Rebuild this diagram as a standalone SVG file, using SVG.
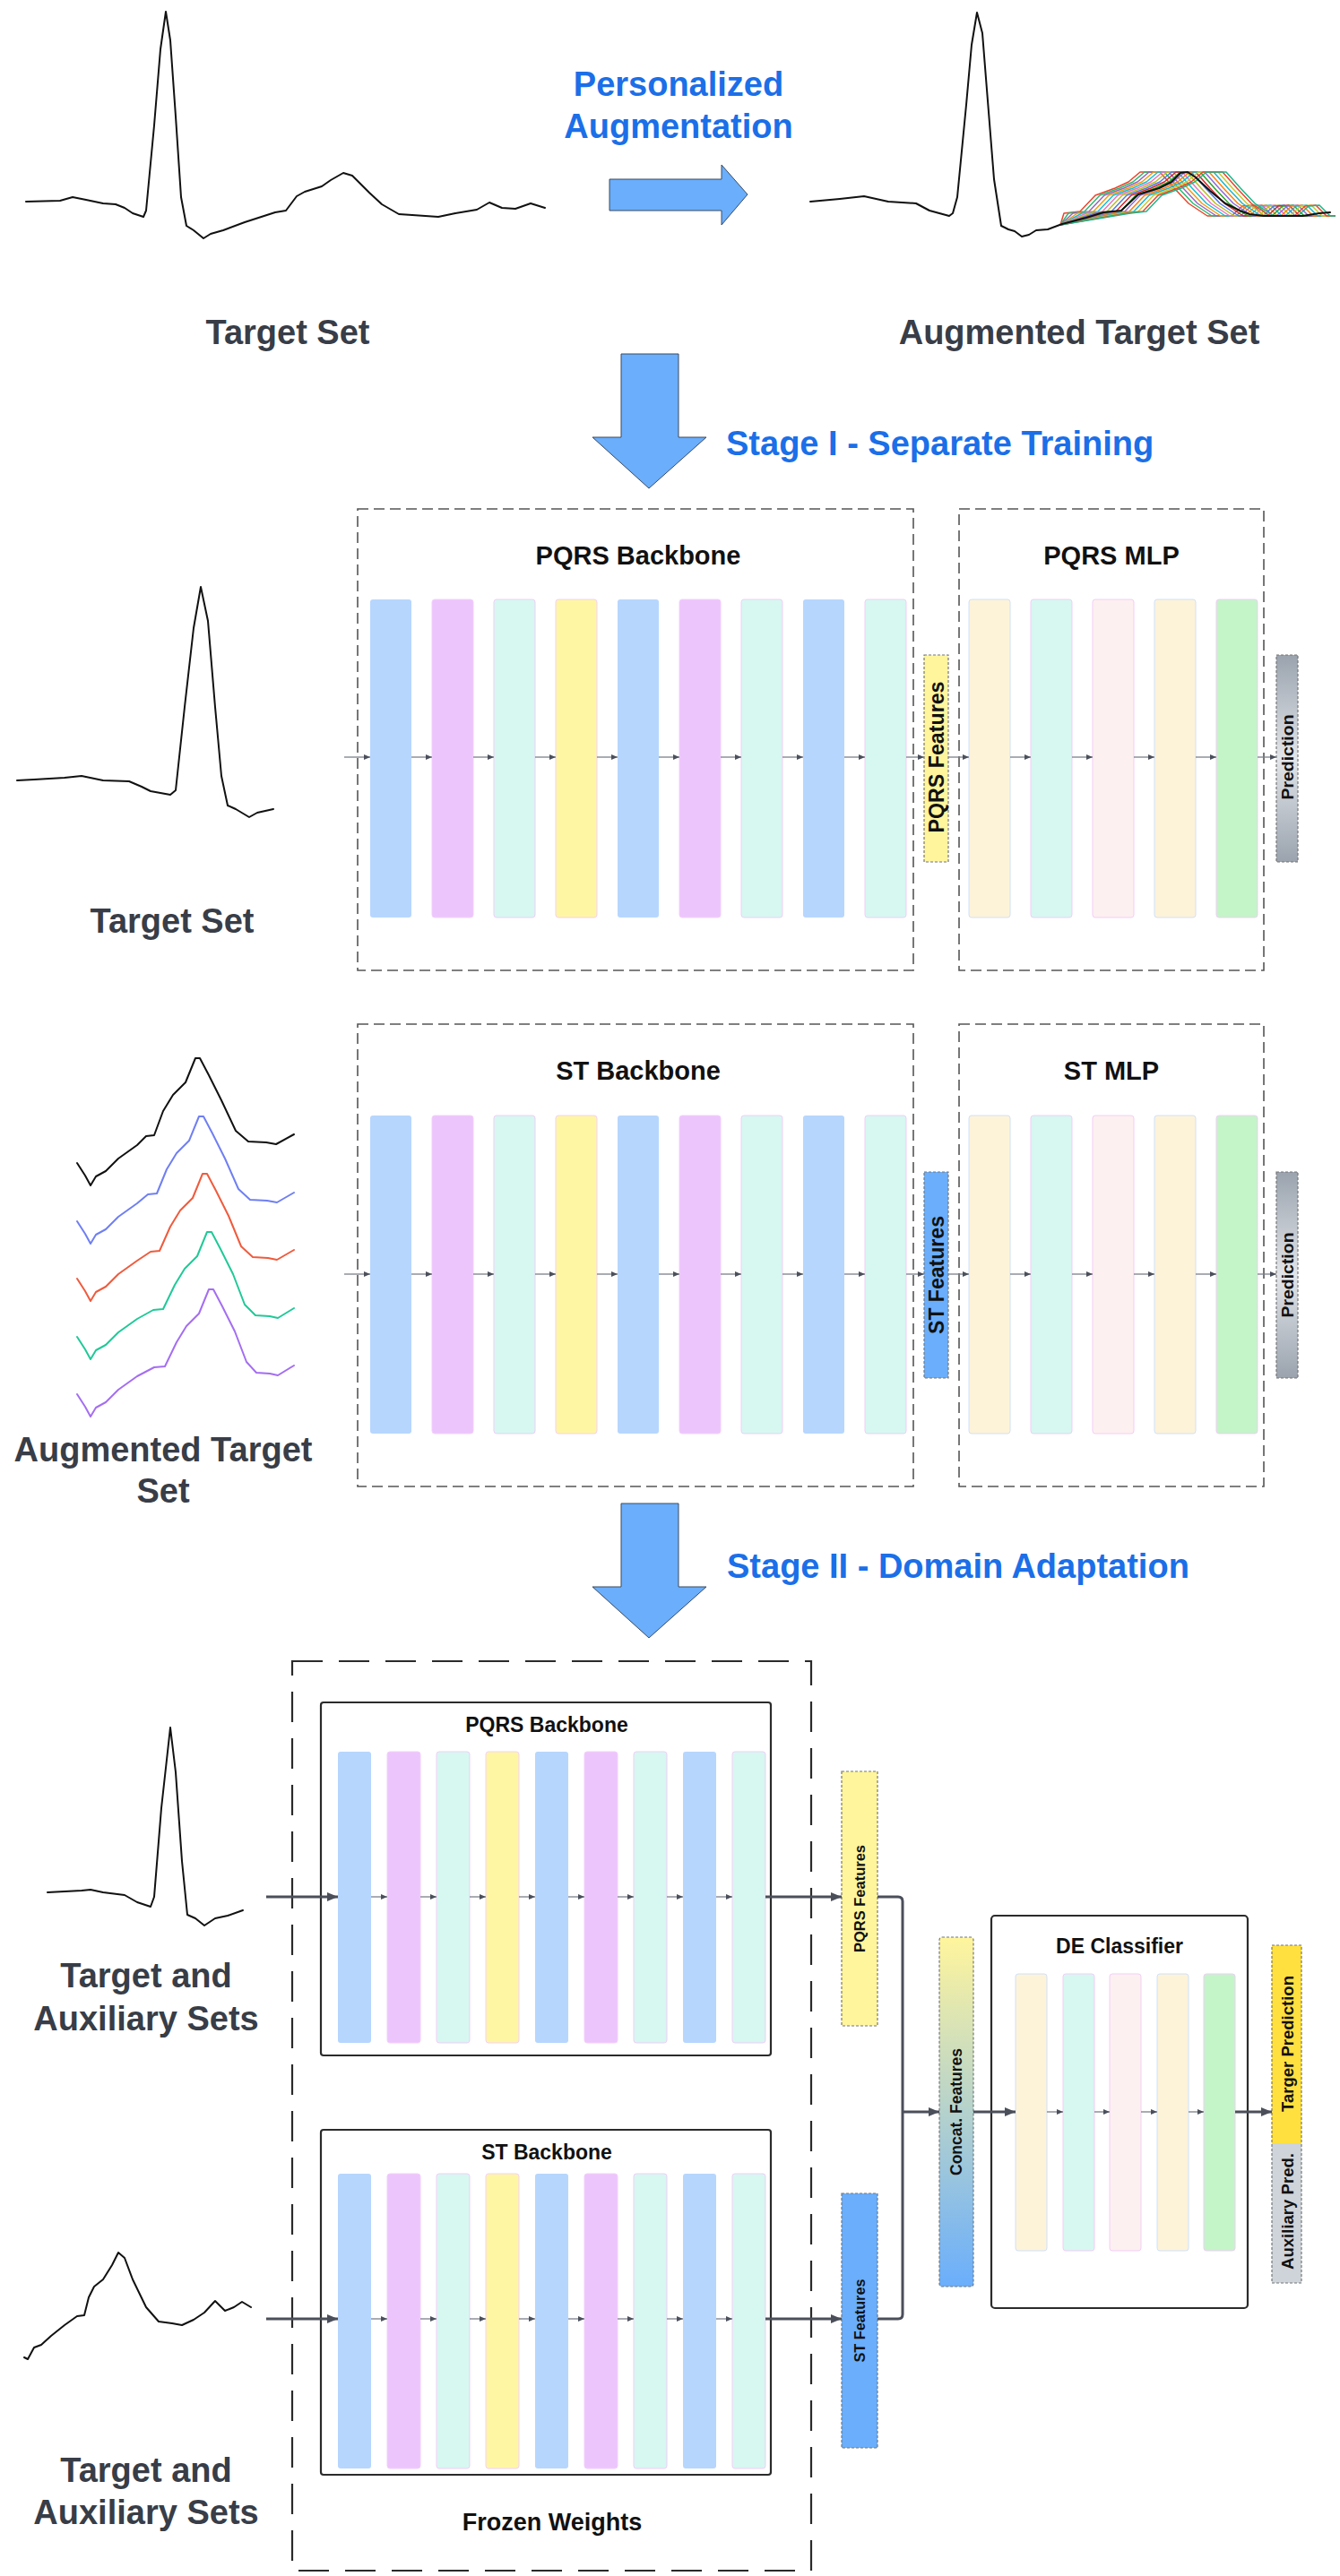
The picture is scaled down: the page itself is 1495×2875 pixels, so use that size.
<svg xmlns="http://www.w3.org/2000/svg" width="1495" height="2875" viewBox="0 0 1495 2875">
<defs>
<style>
.lbl{font-family:"Liberation Sans",Arial,sans-serif;font-weight:bold;font-size:38px;fill:#383d47;text-anchor:middle}
.blue{font-family:"Liberation Sans",Arial,sans-serif;font-weight:bold;font-size:38px;fill:#1b6fe8}
.hd{font-family:"Liberation Sans",Arial,sans-serif;font-weight:bold;font-size:29px;fill:#111;text-anchor:middle}
.hd2{font-family:"Liberation Sans",Arial,sans-serif;font-weight:bold;font-size:23px;fill:#111;text-anchor:middle}
.fw{font-family:"Liberation Sans",Arial,sans-serif;font-weight:bold;font-size:27px;fill:#111;text-anchor:middle}
.rot{font-family:"Liberation Sans",Arial,sans-serif;font-weight:bold;fill:#111;text-anchor:middle}
.ecg{fill:none;stroke:#111;stroke-width:2;stroke-linejoin:round;stroke-linecap:round}
.wave{fill:none;stroke-width:1.5;stroke-linejoin:round}
.big{fill:#6aaefc;stroke:#3b4a60;stroke-width:1}
.dbox{fill:none;stroke:#555;stroke-width:1.6;stroke-dasharray:12 6}
.fzbox{fill:none;stroke:#2a2a2a;stroke-width:2.2;stroke-dasharray:34 18}
.sbox{fill:#fff;stroke:#2b2b2b;stroke-width:2.2}
.fbox{stroke:#777;stroke-width:1.2;stroke-dasharray:3 2}
.bB{fill:#b6d6fe}
.bP{fill:#ecc5fc;stroke:#f3d0fb;stroke-width:1}
.bM{fill:#d6f8f1;stroke:#f1cdf7;stroke-width:1}
.bY{fill:#fff6a3;stroke:#f3d0fb;stroke-width:1}
.bC{fill:#fdf3d9;stroke:#cfe0fa;stroke-width:1}
.bK{fill:#fdf0f0;stroke:#f3cdf7;stroke-width:1}
.bG{fill:#c3f5c8;stroke:#f1cdf7;stroke-width:1}
.thin{fill:none;stroke:#7a7f88;stroke-width:1.3;marker-end:url(#ah)}
.thick{fill:none;stroke:#4a4f5a;stroke-width:3;marker-end:url(#ahb)}
.conn{fill:none;stroke:#4a4f5a;stroke-width:3}
</style>
<marker id="ah" markerUnits="userSpaceOnUse" markerWidth="8" markerHeight="6" refX="7" refY="3" orient="auto"><path d="M0,0 L7,3 L0,6 z" fill="#4a4f5a"/></marker>
<marker id="ahb" markerUnits="userSpaceOnUse" markerWidth="13" markerHeight="10" refX="12" refY="5" orient="auto"><path d="M0,0 L12,5 L0,10 z" fill="#4a4f5a"/></marker>
<linearGradient id="gPred" x1="0" y1="0" x2="0" y2="1"><stop offset="0" stop-color="#9aa3ae"/><stop offset="0.5" stop-color="#e2e5e9"/><stop offset="1" stop-color="#9aa3ae"/></linearGradient>
<linearGradient id="gConcat" x1="0" y1="0" x2="0" y2="1"><stop offset="0" stop-color="#fff59d"/><stop offset="1" stop-color="#6aaefc"/></linearGradient>
<clipPath id="clipAug"><rect x="1150" y="150" width="340" height="120"/></clipPath>
</defs>

<!-- ===== Top: Personalized augmentation ===== -->
<g id="ecg-target-top">
<polyline class="ecg" points="29,225 67,224 81,220 96,223 115,227 129,228 139,232 148,238 160,242 163,235 172,140 179,55 185,13 190,45 196,130 202,220 208,252 216,257 227,266 235,261 249,257 273,248 307,237 319,235 331,219 340,214 359,208 369,201 383,193 393,196 412,215 426,228 445,239 460,240 489,242 508,238 532,234 546,226 560,232 575,233 592,227 608,232"/>
</g>
<g id="label-target-set-top"><text class="lbl" x="321" y="384">Target Set</text></g>
<g id="personalized-augmentation">
<text class="blue" x="757" y="107" text-anchor="middle">Personalized</text>
<text class="blue" x="757" y="154" text-anchor="middle">Augmentation</text>
<polygon class="big" points="680,200 805,200 805,184 834,217 805,251 805,235 680,235"/>
</g>
<g id="ecg-augmented-top">
<g clip-path="url(#clipAug)">
<g id="aug-waves">
<polyline class="wave" stroke="#e8452c" transform="translate(-46,0)" points="1229,251 1233,238 1251,236 1268,218 1290,210 1305,203 1318,192 1340,192 1356,210 1372,227 1393,241 1420,241 1432,230 1444,229 1456,241 1546,241"/>
<polyline class="wave" stroke="#2eb872" transform="translate(-41,0)" points="1224,251 1233,238 1251,236 1268,218 1290,210 1305,203 1318,192 1340,192 1356,210 1372,227 1393,241 1420,241 1432,230 1444,229 1456,241 1546,241"/>
<polyline class="wave" stroke="#9467bd" transform="translate(-36,0)" points="1219,251 1233,238 1251,236 1268,218 1290,210 1305,203 1318,192 1340,192 1356,210 1372,227 1393,241 1420,241 1432,230 1444,229 1456,241 1546,241"/>
<polyline class="wave" stroke="#f39c12" transform="translate(-31,0)" points="1214,251 1233,238 1251,236 1268,218 1290,210 1305,203 1318,192 1340,192 1356,210 1372,227 1393,241 1420,241 1432,230 1444,229 1456,241 1546,241"/>
<polyline class="wave" stroke="#17becf" transform="translate(-26,0)" points="1209,251 1233,238 1251,236 1268,218 1290,210 1305,203 1318,192 1340,192 1356,210 1372,227 1393,241 1420,241 1432,230 1444,229 1456,241 1546,241"/>
<polyline class="wave" stroke="#e377c2" transform="translate(-21,0)" points="1204,251 1233,238 1251,236 1268,218 1290,210 1305,203 1318,192 1340,192 1356,210 1372,227 1393,241 1420,241 1432,230 1444,229 1456,241 1546,241"/>
<polyline class="wave" stroke="#bcbd22" transform="translate(-16,0)" points="1199,251 1233,238 1251,236 1268,218 1290,210 1305,203 1318,192 1340,192 1356,210 1372,227 1393,241 1420,241 1432,230 1444,229 1456,241 1546,241"/>
<polyline class="wave" stroke="#4e79e6" transform="translate(-11,0)" points="1194,251 1233,238 1251,236 1268,218 1290,210 1305,203 1318,192 1340,192 1356,210 1372,227 1393,241 1420,241 1432,230 1444,229 1456,241 1546,241"/>
<polyline class="wave" stroke="#d62728" transform="translate(-6,0)" points="1189,251 1233,238 1251,236 1268,218 1290,210 1305,203 1318,192 1340,192 1356,210 1372,227 1393,241 1420,241 1432,230 1444,229 1456,241 1546,241"/>
<polyline class="wave" stroke="#2ca02c" transform="translate(-1,0)" points="1184,251 1233,238 1251,236 1268,218 1290,210 1305,203 1318,192 1340,192 1356,210 1372,227 1393,241 1420,241 1432,230 1444,229 1456,241 1546,241"/>
<polyline class="wave" stroke="#8e6bd8" transform="translate(4,0)" points="1179,251 1233,238 1251,236 1268,218 1290,210 1305,203 1318,192 1340,192 1356,210 1372,227 1393,241 1420,241 1432,230 1444,229 1456,241 1546,241"/>
<polyline class="wave" stroke="#ff7f0e" transform="translate(9,0)" points="1174,251 1233,238 1251,236 1268,218 1290,210 1305,203 1318,192 1340,192 1356,210 1372,227 1393,241 1420,241 1432,230 1444,229 1456,241 1546,241"/>
<polyline class="wave" stroke="#1fb5c9" transform="translate(14,0)" points="1169,251 1233,238 1251,236 1268,218 1290,210 1305,203 1318,192 1340,192 1356,210 1372,227 1393,241 1420,241 1432,230 1444,229 1456,241 1546,241"/>
<polyline class="wave" stroke="#c9c930" transform="translate(19,0)" points="1164,251 1233,238 1251,236 1268,218 1290,210 1305,203 1318,192 1340,192 1356,210 1372,227 1393,241 1420,241 1432,230 1444,229 1456,241 1546,241"/>
<polyline class="wave" stroke="#e8452c" transform="translate(24,0)" points="1159,251 1233,238 1251,236 1268,218 1290,210 1305,203 1318,192 1340,192 1356,210 1372,227 1393,241 1420,241 1432,230 1444,229 1456,241 1546,241"/>
<polyline class="wave" stroke="#20b48a" transform="translate(28,0)" points="1155,251 1233,238 1251,236 1268,218 1290,210 1305,203 1318,192 1340,192 1356,210 1372,227 1393,241 1420,241 1432,230 1444,229 1456,241 1546,241"/>
</g>
</g>
<polyline class="ecg" points="904,225 937,222 964,219 991,225 1022,227 1037,235 1059,241 1063,238 1068,220 1078,117 1084,50 1090,14 1096,37 1101,100 1109,200 1117,252 1125,256 1132,258 1140,264 1148,262 1156,257 1169,256 1185,250 1212,243 1231,237 1251,235 1270,217 1293,210 1307,203 1317,193 1325,192 1334,198 1350,213 1367,227 1383,235 1394,239 1410,241 1453,241 1472,238 1484,237"/>
</g>
<g id="label-augmented-top"><text class="lbl" x="1204" y="384">Augmented Target Set</text></g>

<g id="arrow-stage1">
<polygon class="big" points="693,395 757,395 757,488 788,488 724,545 661,488 693,488"/>
<text class="blue" x="810" y="508">Stage I - Separate Training</text>
</g>

<!-- ===== Stage I : PQRS ===== -->
<g id="ecg-target-s1"><polyline class="ecg" points="19,871 38,870 72,868 91,866 115,871 144,872 158,878 168,883 190,887 196,882 206,789 216,701 224,655 232,693 240,789 247,866 254,899 263,903 278,912 287,907 305,903"/></g>
<g id="label-target-s1"><text class="lbl" x="192" y="1041">Target Set</text></g>

<g id="pqrs-backbone-s1">
<rect class="dbox" x="399" y="568" width="620" height="515"/>
<text class="hd" x="712" y="630">PQRS Backbone</text>
<rect class="bB" x="413" y="669" width="46" height="355" rx="3"/>
<rect class="bP" x="482" y="669" width="46" height="355" rx="3"/>
<rect class="bM" x="551" y="669" width="46" height="355" rx="3"/>
<rect class="bY" x="620" y="669" width="46" height="355" rx="3"/>
<rect class="bB" x="689" y="669" width="46" height="355" rx="3"/>
<rect class="bP" x="758" y="669" width="46" height="355" rx="3"/>
<rect class="bM" x="827" y="669" width="46" height="355" rx="3"/>
<rect class="bB" x="896" y="669" width="46" height="355" rx="3"/>
<rect class="bM" x="965" y="669" width="46" height="355" rx="3"/>
</g>
<g id="pqrs-features-s1">
<rect class="fbox" x="1031" y="731" width="27" height="231" fill="#fff59d"/>
<text class="rot" font-size="23" transform="translate(1044.5,845) rotate(-90)" dy="8" textLength="169" lengthAdjust="spacingAndGlyphs">PQRS Features</text>
</g>
<g id="pqrs-mlp-s1">
<rect class="dbox" x="1070" y="568" width="340" height="515"/>
<text class="hd" x="1240" y="630">PQRS MLP</text>
<rect class="bC" x="1081" y="669" width="46" height="355" rx="3"/>
<rect class="bM" x="1150" y="669" width="46" height="355" rx="3"/>
<rect class="bK" x="1219" y="669" width="46" height="355" rx="3"/>
<rect class="bC" x="1288" y="669" width="46" height="355" rx="3"/>
<rect class="bG" x="1357" y="669" width="46" height="355" rx="3"/>
</g>
<g id="prediction-s1">
<rect class="fbox" x="1424" y="731" width="24" height="231" fill="url(#gPred)"/>
<text class="rot" font-size="19" transform="translate(1436,845) rotate(-90)" dy="7" textLength="95" lengthAdjust="spacingAndGlyphs">Prediction</text>
</g>

<!-- ===== Stage I : ST ===== -->
<g id="ecg-augmented-s1">
<polyline class="ecg" points="86,1298 95,1312 101,1323 107,1313 118,1307 132,1293 153,1278 163,1268 172,1267 182,1240 193,1222 207,1208 218,1181 223,1181 233,1200 247,1228 263,1262 277,1274 297,1275 308,1277 328,1266"/>
<polyline class="ecg" stroke="#6f7ff2" style="stroke:#6f7ff2" transform="translate(0,65)" points="86,1298 95,1312 101,1323 107,1313 118,1307 132,1293 153,1278 165,1268 175,1267 186,1240 197,1222 211,1208 222,1181 227,1181 237,1200 251,1228 266,1262 279,1274 298,1275 309,1277 328,1266"/>
<polyline class="ecg" style="stroke:#ef5b3d" transform="translate(0,129)" points="86,1298 95,1312 101,1323 107,1313 118,1307 132,1293 153,1278 168,1268 178,1267 190,1240 201,1222 215,1208 226,1181 231,1181 241,1200 255,1228 269,1262 282,1274 299,1275 309,1277 328,1266"/>
<polyline class="ecg" style="stroke:#20c997" transform="translate(0,194)" points="86,1298 95,1312 101,1323 107,1313 118,1307 132,1293 153,1278 171,1268 182,1267 195,1240 206,1222 220,1208 231,1181 236,1181 246,1200 260,1228 273,1262 285,1274 301,1275 310,1277 328,1266"/>
<polyline class="ecg" style="stroke:#a46ef2" transform="translate(0,258)" points="86,1298 95,1312 101,1323 107,1313 118,1307 132,1293 153,1278 172,1268 184,1267 197,1240 208,1222 222,1208 233,1181 238,1181 248,1200 262,1228 275,1262 286,1274 301,1275 310,1277 328,1266"/>
</g>
<g id="label-augmented-s1">
<text class="lbl" x="182" y="1631">Augmented Target</text>
<text class="lbl" x="182" y="1677">Set</text>
</g>

<g id="st-backbone-s1">
<rect class="dbox" x="399" y="1143" width="620" height="516"/>
<text class="hd" x="712" y="1205">ST Backbone</text>
<rect class="bB" x="413" y="1245" width="46" height="355" rx="3"/>
<rect class="bP" x="482" y="1245" width="46" height="355" rx="3"/>
<rect class="bM" x="551" y="1245" width="46" height="355" rx="3"/>
<rect class="bY" x="620" y="1245" width="46" height="355" rx="3"/>
<rect class="bB" x="689" y="1245" width="46" height="355" rx="3"/>
<rect class="bP" x="758" y="1245" width="46" height="355" rx="3"/>
<rect class="bM" x="827" y="1245" width="46" height="355" rx="3"/>
<rect class="bB" x="896" y="1245" width="46" height="355" rx="3"/>
<rect class="bM" x="965" y="1245" width="46" height="355" rx="3"/>
</g>
<g id="st-features-s1">
<rect class="fbox" x="1031" y="1308" width="27" height="230" fill="#6aaefc"/>
<text class="rot" font-size="23" transform="translate(1044.5,1423) rotate(-90)" dy="8" textLength="132" lengthAdjust="spacingAndGlyphs">ST Features</text>
</g>
<g id="st-mlp-s1">
<rect class="dbox" x="1070" y="1143" width="340" height="516"/>
<text class="hd" x="1240" y="1205">ST MLP</text>
<rect class="bC" x="1081" y="1245" width="46" height="355" rx="3"/>
<rect class="bM" x="1150" y="1245" width="46" height="355" rx="3"/>
<rect class="bK" x="1219" y="1245" width="46" height="355" rx="3"/>
<rect class="bC" x="1288" y="1245" width="46" height="355" rx="3"/>
<rect class="bG" x="1357" y="1245" width="46" height="355" rx="3"/>
</g>
<g id="prediction-s1-st">
<rect class="fbox" x="1424" y="1308" width="24" height="230" fill="url(#gPred)"/>
<text class="rot" font-size="19" transform="translate(1436,1423) rotate(-90)" dy="7" textLength="95" lengthAdjust="spacingAndGlyphs">Prediction</text>
</g>

<g id="arrow-stage2">
<polygon class="big" points="693,1678 757,1678 757,1771 788,1771 724,1828 661,1771 693,1771"/>
<text class="blue" x="811" y="1761">Stage II - Domain Adaptation</text>
</g>

<!-- ===== Stage II ===== -->
<g id="ecg-s2-top"><polyline class="ecg" points="53,2112 91,2110 101,2109 115,2112 139,2115 153,2123 168,2128 172,2117 180,2018 190,1928 196,1978 203,2077 209,2137 218,2141 228,2149 240,2141 254,2138 271,2132"/></g>
<g id="label-s2-top"><text class="lbl" x="163" y="2218">Target and</text><text class="lbl" x="163" y="2266">Auxiliary Sets</text></g>
<g id="ecg-s2-bottom"><polyline class="ecg" points="27,2631 31,2633 38,2620 46,2617 57,2607 72,2595 86,2585 94,2584 99,2564 105,2552 115,2544 125,2528 132,2514 139,2520 148,2544 163,2575 177,2591 192,2593 203,2595 216,2589 228,2581 240,2568 251,2579 261,2575 270,2569 280,2575"/></g>
<g id="label-s2-bottom"><text class="lbl" x="163" y="2770">Target and</text><text class="lbl" x="163" y="2817">Auxiliary Sets</text></g>

<g id="frozen-weights">
<rect class="fzbox" x="326" y="1854" width="579" height="1015"/>
<text class="fw" x="616" y="2824">Frozen Weights</text>
</g>
<g id="pqrs-backbone-s2">
<rect class="sbox" x="358" y="1900" width="502" height="394" rx="3"/>
<text class="hd2" x="610" y="1933">PQRS Backbone</text>
<rect class="bB" x="377" y="1955" width="37" height="325" rx="3"/>
<rect class="bP" x="432" y="1955" width="37" height="325" rx="3"/>
<rect class="bM" x="487" y="1955" width="37" height="325" rx="3"/>
<rect class="bY" x="542" y="1955" width="37" height="325" rx="3"/>
<rect class="bB" x="597" y="1955" width="37" height="325" rx="3"/>
<rect class="bP" x="652" y="1955" width="37" height="325" rx="3"/>
<rect class="bM" x="707" y="1955" width="37" height="325" rx="3"/>
<rect class="bB" x="762" y="1955" width="37" height="325" rx="3"/>
<rect class="bM" x="817" y="1955" width="37" height="325" rx="3"/>
</g>
<g id="st-backbone-s2">
<rect class="sbox" x="358" y="2377" width="502" height="385" rx="3"/>
<text class="hd2" x="610" y="2410">ST Backbone</text>
<rect class="bB" x="377" y="2426" width="37" height="329" rx="3"/>
<rect class="bP" x="432" y="2426" width="37" height="329" rx="3"/>
<rect class="bM" x="487" y="2426" width="37" height="329" rx="3"/>
<rect class="bY" x="542" y="2426" width="37" height="329" rx="3"/>
<rect class="bB" x="597" y="2426" width="37" height="329" rx="3"/>
<rect class="bP" x="652" y="2426" width="37" height="329" rx="3"/>
<rect class="bM" x="707" y="2426" width="37" height="329" rx="3"/>
<rect class="bB" x="762" y="2426" width="37" height="329" rx="3"/>
<rect class="bM" x="817" y="2426" width="37" height="329" rx="3"/>
</g>
<g id="pqrs-features-s2">
<rect class="fbox" x="939" y="1977" width="40" height="284" fill="#fff59d"/>
<text class="rot" font-size="16.5" transform="translate(959,2119) rotate(-90)" dy="6" textLength="120" lengthAdjust="spacingAndGlyphs">PQRS Features</text>
</g>
<g id="st-features-s2">
<rect class="fbox" x="939" y="2448" width="40" height="284" fill="#6aaefc"/>
<text class="rot" font-size="16.5" transform="translate(959,2590) rotate(-90)" dy="6" textLength="93" lengthAdjust="spacingAndGlyphs">ST Features</text>
</g>
<g id="concat-features">
<rect class="fbox" x="1048" y="2162" width="38" height="390" rx="3" fill="url(#gConcat)"/>
<text class="rot" font-size="17.5" transform="translate(1067,2357) rotate(-90)" dy="6" textLength="142" lengthAdjust="spacingAndGlyphs">Concat.  Features</text>
</g>
<g id="de-classifier">
<rect class="sbox" x="1106" y="2138" width="286" height="438" rx="4"/>
<text class="hd2" x="1249" y="2180">DE Classifier</text>
<rect class="bC" x="1133" y="2203" width="35" height="309" rx="3"/>
<rect class="bM" x="1186" y="2203" width="35" height="309" rx="3"/>
<rect class="bK" x="1238" y="2203" width="35" height="309" rx="3"/>
<rect class="bC" x="1291" y="2203" width="35" height="309" rx="3"/>
<rect class="bG" x="1343" y="2203" width="35" height="309" rx="3"/>
</g>
<g id="output-predictions">
<rect x="1419" y="2171" width="33" height="221" fill="#ffe03f"/>
<rect x="1419" y="2392" width="33" height="156" fill="#ced4da"/>
<rect class="fbox" x="1419" y="2171" width="33" height="377" fill="none"/>
<text class="rot" font-size="18.5" transform="translate(1435.5,2281) rotate(-90)" dy="7" textLength="152" lengthAdjust="spacingAndGlyphs">Targer Prediction</text>
<text class="rot" font-size="18.5" transform="translate(1435.5,2468) rotate(-90)" dy="7" textLength="130" lengthAdjust="spacingAndGlyphs">Auxiliary Pred.</text>
</g>

<!-- ===== Connectors ===== -->
<g id="connectors">
<path class="thin" d="M384 845H413"/><path class="thin" d="M459 845H482"/><path class="thin" d="M528 845H551"/><path class="thin" d="M597 845H620"/><path class="thin" d="M666 845H689"/><path class="thin" d="M735 845H758"/><path class="thin" d="M804 845H827"/><path class="thin" d="M873 845H896"/><path class="thin" d="M942 845H965"/><path class="thin" d="M1011 845H1031"/><path class="thin" d="M1058 845H1081"/><path class="thin" d="M1127 845H1150"/><path class="thin" d="M1196 845H1219"/><path class="thin" d="M1265 845H1288"/><path class="thin" d="M1334 845H1357"/><path class="thin" d="M1403 845H1424"/>
<path class="thin" d="M384 1422H413"/><path class="thin" d="M459 1422H482"/><path class="thin" d="M528 1422H551"/><path class="thin" d="M597 1422H620"/><path class="thin" d="M666 1422H689"/><path class="thin" d="M735 1422H758"/><path class="thin" d="M804 1422H827"/><path class="thin" d="M873 1422H896"/><path class="thin" d="M942 1422H965"/><path class="thin" d="M1011 1422H1031"/><path class="thin" d="M1058 1422H1081"/><path class="thin" d="M1127 1422H1150"/><path class="thin" d="M1196 1422H1219"/><path class="thin" d="M1265 1422H1288"/><path class="thin" d="M1334 1422H1357"/><path class="thin" d="M1403 1422H1424"/>
<path class="thick" d="M297 2117H377"/><path class="thin" d="M414 2117H432"/><path class="thin" d="M469 2117H487"/><path class="thin" d="M524 2117H542"/><path class="thin" d="M579 2117H597"/><path class="thin" d="M634 2117H652"/><path class="thin" d="M689 2117H707"/><path class="thin" d="M744 2117H762"/><path class="thin" d="M799 2117H817"/><path class="thick" d="M854 2117H939"/>
<path class="thick" d="M297 2588H377"/><path class="thin" d="M414 2588H432"/><path class="thin" d="M469 2588H487"/><path class="thin" d="M524 2588H542"/><path class="thin" d="M579 2588H597"/><path class="thin" d="M634 2588H652"/><path class="thin" d="M689 2588H707"/><path class="thin" d="M744 2588H762"/><path class="thin" d="M799 2588H817"/><path class="thick" d="M854 2588H939"/>
<path class="conn" d="M979 2117H1002Q1007 2117 1007 2122V2583Q1007 2588 1002 2588H979"/>
<path class="thick" d="M1007 2357H1048"/>
<path class="thick" d="M1086 2357H1133"/><path class="thin" d="M1168 2357H1186"/><path class="thin" d="M1221 2357H1238"/><path class="thin" d="M1273 2357H1291"/><path class="thin" d="M1326 2357H1343"/><path class="thick" d="M1378 2357H1419"/>
</g>
</svg>
